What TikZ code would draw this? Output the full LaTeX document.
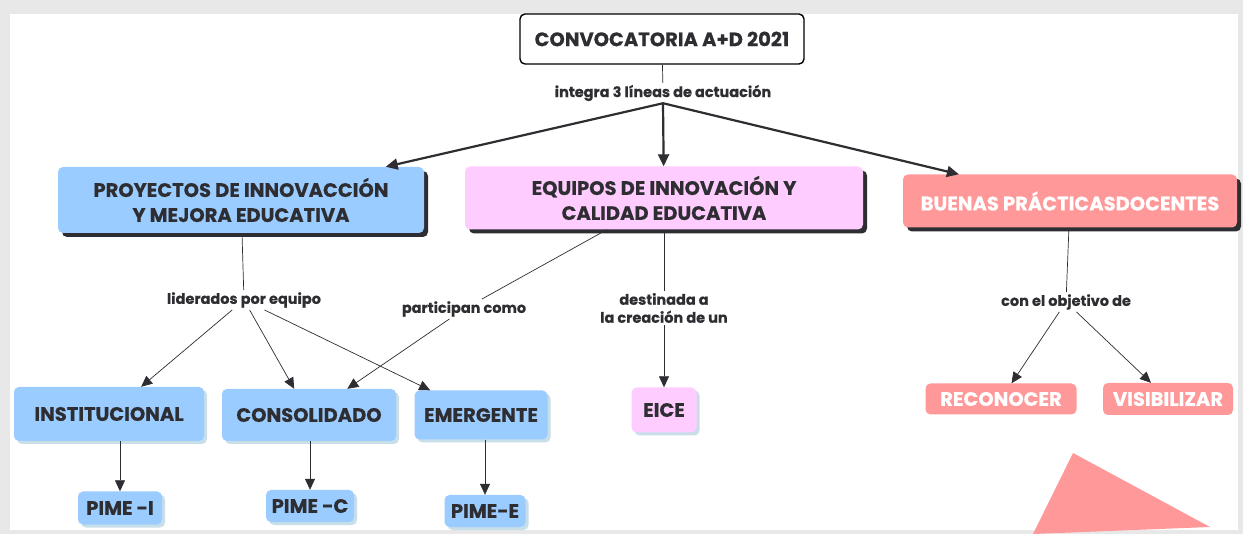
\documentclass[tikz,border=0pt]{standalone}
\usepackage{fontspec}
\setmainfont{Poppins}[BoldFeatures={FakeBold=0.4}]
\usetikzlibrary{shadows,arrows.meta}
\definecolor{bl}{RGB}{155,204,255}
\definecolor{pk}{RGB}{255,204,255}
\definecolor{sa}{RGB}{255,153,153}
\definecolor{tx}{RGB}{45,45,50}
\definecolor{lsh}{RGB}{200,222,232}
\begin{document}
\begin{tikzpicture}[x=1pt,y=-1pt,
  box/.style={rounded corners=5pt, inner sep=0pt, align=center, text=tx,
    font=\bfseries\fontsize{19.5}{25}\selectfont},
  topbox/.style={box, drop shadow={shadow xshift=4pt, shadow yshift=-4pt, fill=tx, opacity=1}},
  lowbox/.style={box, drop shadow={shadow xshift=3pt, shadow yshift=-3pt, fill=lsh, opacity=1}},
  lab/.style={inner sep=2pt, align=center, text=tx, font=\bfseries\fontsize{14.5}{18}\selectfont},
  thin/.style={draw=tx, line width=0.7pt},
  tarr/.style={thin, -{Triangle[length=11pt,width=10pt]}},
  barr/.style={draw=tx, line width=2.2pt, -{Triangle[length=12pt,width=11pt]}}
]
\useasboundingbox (0,0) rectangle (1243,534);
\fill[gray!18] (0,0) rectangle (1243,534);
\fill[white] (10,14) rectangle (1238,530);

\node[box, draw=black, line width=1.4pt, fill=white, minimum width=284pt, minimum height=50pt] (conv) at (662,39) {CONVOCATORIA A+D 2021};
\node[lab] (int) at (663,93) {integra 3 líneas de actuación};

\node[topbox, fill=bl, minimum width=366pt, minimum height=66pt] (proy) at (241,200) {PROYECTOS DE INNOVACCIÓN\\Y MEJORA EDUCATIVA};
\node[topbox, fill=pk, minimum width=398pt, minimum height=63pt] (equ) at (664,198) {EQUIPOS DE INNOVACIÓN Y\\CALIDAD EDUCATIVA};
\node[topbox, fill=sa, text=white, minimum width=334pt, minimum height=53pt] (bue) at (1070,201) {BUENAS PRÁCTICASDOCENTES};

\node[lab] (lid) at (244,300) {liderados por equipo};
\node[lab] (par) at (464,309) {participan como};
\node[lab] (des) at (664,308) {destinada a\\la creación de un};
\node[lab] (obj) at (1066,302) {con el objetivo de};

\node[lowbox, fill=bl, minimum width=190pt, minimum height=54pt] (inst) at (109,414) {INSTITUCIONAL};
\node[lowbox, fill=bl, minimum width=174pt, minimum height=52pt] (cons) at (309,415) {CONSOLIDADO};
\node[lowbox, fill=bl, minimum width=133pt, minimum height=49pt] (emer) at (481,415) {EMERGENTE};
\node[lowbox, fill=pk, minimum width=65pt, minimum height=45pt] (eice) at (664,410) {EICE};
\node[box, fill=sa, text=white, minimum width=151pt, minimum height=31pt] (rec) at (1001,399) {RECONOCER};
\node[box, fill=sa, text=white, minimum width=130pt, minimum height=32pt] (vis) at (1168,399) {VISIBILIZAR};

\node[lowbox, fill=bl, minimum width=84pt, minimum height=33pt] (pi) at (120,508) {PIME -I};
\node[lowbox, fill=bl, minimum width=88pt, minimum height=32pt] (pc) at (310,506) {PIME -C};
\node[lowbox, fill=bl, minimum width=81pt, minimum height=32pt] (pe) at (485,511) {PIME-E};

\draw[thin] (conv) -- (int);
\draw[barr] (int.south) -- (proy);
\draw[barr] (int.south) -- (equ);
\draw[barr] (int.south) -- (bue);

\draw[thin] (proy) -- (lid);
\draw[tarr] (lid) -- (inst);
\draw[tarr] (lid) -- (cons);
\draw[tarr] (lid) -- (emer);

\draw[thin] (equ.209) -- (par);
\draw[tarr] (par) -- (cons);
\draw[thin] (equ) -- (des);
\draw[tarr] (des) -- (eice);

\draw[thin] (bue) -- (obj);
\draw[tarr] (obj) -- (rec);
\draw[tarr] (obj) -- (vis);

\draw[tarr] (pi |- inst.south) -- (pi);
\draw[tarr] (pc |- cons.south) -- (pc);
\draw[tarr] (pe |- emer.south) -- (pe);

\fill[sa] (1073,453) -- (1210,527) -- (1033,534) -- cycle;
\end{tikzpicture}
\end{document}
